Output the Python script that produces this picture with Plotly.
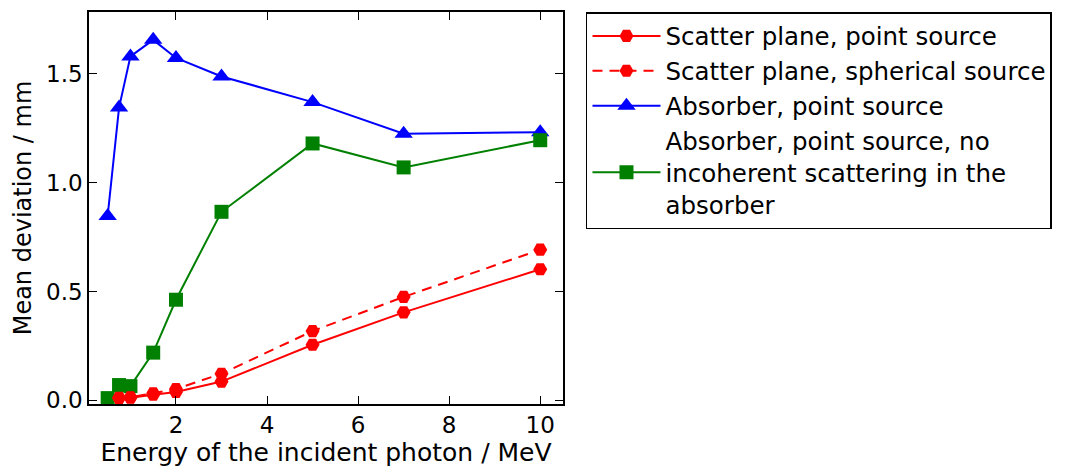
import plotly.graph_objects as go

# Data
energy_absorber = [0.5, 0.75, 1.0, 1.5, 2, 3, 5, 7, 10]
energy_scatter = [0.75, 1.0, 1.5, 2, 3, 5, 7, 10]

scatter_point = [0.010, 0.012, 0.026, 0.038, 0.086, 0.255, 0.404, 0.602]
scatter_spherical = [0.012, 0.014, 0.032, 0.052, 0.122, 0.318, 0.475, 0.692]
absorber_point = [0.847, 1.345, 1.580, 1.656, 1.573, 1.488, 1.370, 1.225, 1.232]
absorber_noinc = [0.010, 0.070, 0.065, 0.219, 0.462, 0.866, 1.180, 1.070, 1.195]

names = [
    "Scatter plane, point source",
    "Scatter plane, spherical source",
    "Absorber, point source",
    "Absorber, point source, no<br>incoherent scattering in the<br>absorber",
]

x_ticks = [2, 4, 6, 8, 10]
y_ticks = [0.0, 0.5, 1.0, 1.5]

FONT = "DejaVu Sans"

fig = go.Figure()

fig.add_trace(go.Scatter(
    x=energy_absorber, y=absorber_point, name=names[2], legendrank=3,
    mode="lines+markers",
    line=dict(color="#0000ff", width=2),
    marker=dict(symbol="triangle-up", size=16, color="#0000ff"),
))
fig.add_trace(go.Scatter(
    x=energy_absorber, y=absorber_noinc, name=names[3], legendrank=4,
    mode="lines+markers",
    line=dict(color="#008000", width=2),
    marker=dict(symbol="square", size=14, color="#008000"),
))
fig.add_trace(go.Scatter(
    x=energy_scatter, y=scatter_point, name=names[0], legendrank=1,
    mode="lines+markers",
    line=dict(color="#ff0000", width=2),
    marker=dict(symbol="hexagon2", size=14, color="#ff0000"),
))
fig.add_trace(go.Scatter(
    x=energy_scatter, y=scatter_spherical, name=names[1], legendrank=2,
    mode="lines+markers",
    line=dict(color="#ff0000", width=2, dash="10px,7px"),
    marker=dict(symbol="hexagon2", size=14, color="#ff0000"),
))

axis_common = dict(
    showgrid=False, zeroline=False,
    showline=True, linecolor="black", linewidth=1.5, mirror="ticks",
    ticks="inside", ticklen=8, tickwidth=1, tickcolor="black",
    tickfont=dict(family=FONT, size=23, color="black"),
)

fig.update_xaxes(
    range=[0.09, 10.5], tickvals=x_ticks, ticktext=[str(v) for v in x_ticks],
    title=dict(text="Energy of the incident photon / MeV",
               font=dict(family=FONT, size=25, color="black"), standoff=4),
    **axis_common,
)
fig.update_yaxes(
    range=[-0.017, 1.784], tickvals=y_ticks, ticktext=[f"{v:.1f}" for v in y_ticks],
    title=dict(text="Mean deviation / mm",
               font=dict(family=FONT, size=24, color="black"), standoff=8),
    **axis_common,
)

fig.update_layout(
    width=1071, height=470,
    margin=dict(l=89, r=508, t=10, b=62),
    paper_bgcolor="white", plot_bgcolor="white",
    font=dict(family=FONT, size=24, color="black"),
    legend=dict(
        x=1.0485, y=1.0, xanchor="left", yanchor="top",
        bordercolor="black", borderwidth=1.5, bgcolor="white",
        font=dict(family=FONT, size=24.5, color="black"),
        itemwidth=68,
    ),
)

fig.write_html("out.html")
